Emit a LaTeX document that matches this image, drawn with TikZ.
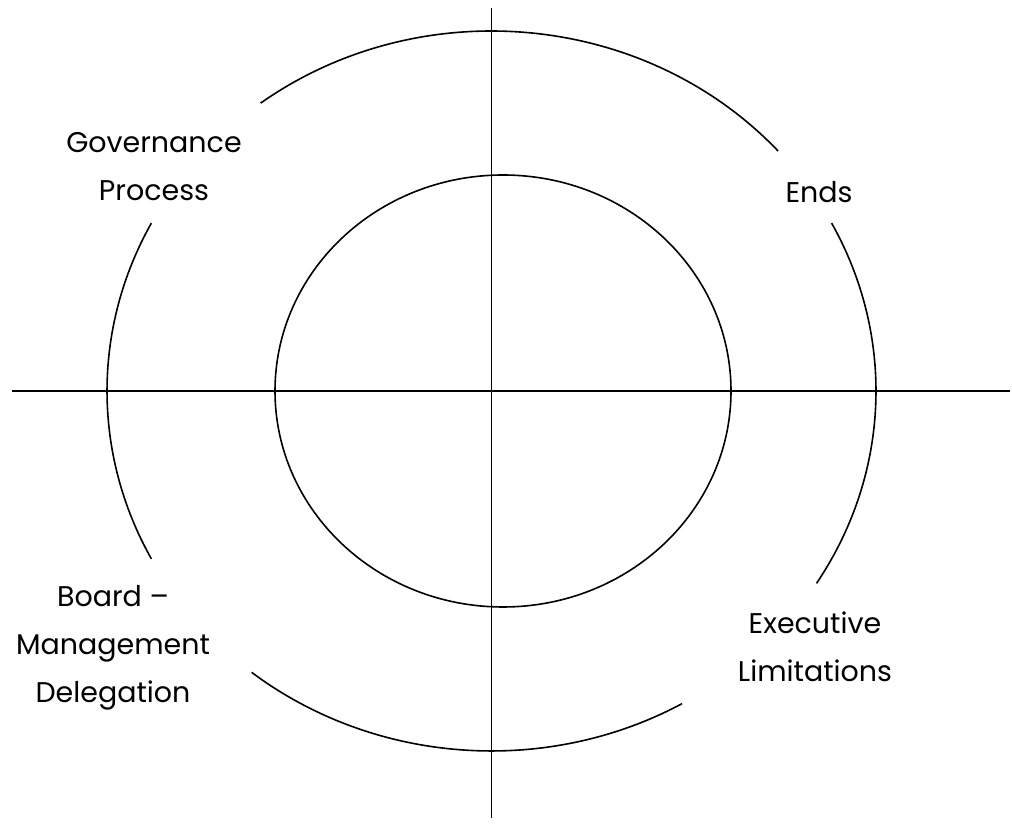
\documentclass[tikz,border=0pt]{standalone}
\usepackage{fontspec}
\setmainfont{Poppins}
\usepackage{tikz}
\usetikzlibrary{positioning}
\tikzset{
        ring/.style={draw, line width=1.6pt},
        axis/.style={draw, line width=1.1pt},
        outerarc/.style={x radius=384.5, y radius=360},
        lbl/.style={align=center, font=\fontsize{28.5}{48}\selectfont},
 }
\begin{document}
\begin{tikzpicture}[x=1pt, y=1pt]
    \useasboundingbox (0,0) rectangle (1012,824);
    \coordinate (o) at (491.5,433);
    \coordinate (ic) at (503,433);
    \coordinate (w) at (12,433);
    \coordinate (e) at (1010,433);
    \coordinate (n) at (491.5,816);
    \coordinate (s) at (491.5,6);

    \draw[axis, line width=1.8pt] (w) -- (e);
    \draw[axis] (n) -- (s);

    \draw[ring] (ic) ellipse[x radius=228, y radius=216];

    \draw[ring] ([shift={(41.8:384.5 and 360)}]o) arc[outerarc, start angle=41.8, end angle=126.9];
    \draw[ring] ([shift={(152.2:384.5 and 360)}]o) arc[outerarc, start angle=152.2, end angle=207.8];
    \draw[ring] ([shift={(231.4:384.5 and 360)}]o) arc[outerarc, start angle=231.4, end angle=299.7];
    \draw[ring] ([shift={(-32.3:384.5 and 360)}]o) arc[outerarc, start angle=-32.3, end angle=27.8];

    \node[lbl] (gov) at (154,657) {Governance\\Process};
    \node[lbl] (ends) at (819,632) {Ends};
    \node[lbl] (exec) at (815,177) {Executive\\Limitations};
    \node[lbl] (board) at (113,176.5) {Board –\\Management\\Delegation};
\end{tikzpicture}
\end{document}
